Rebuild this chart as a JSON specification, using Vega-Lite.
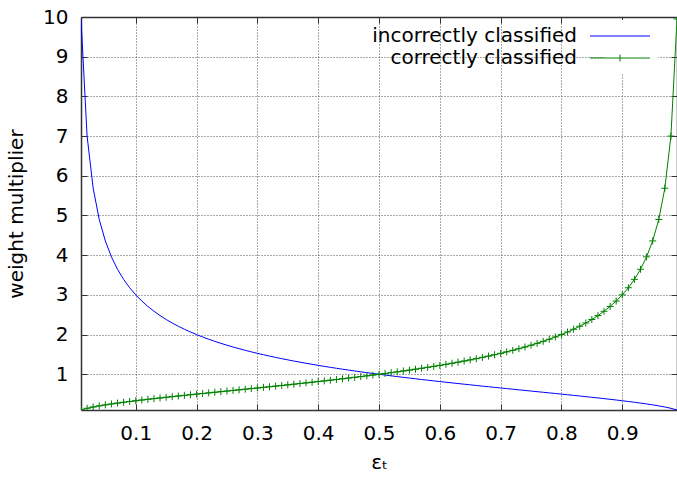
{
  "$schema": "https://vega.github.io/schema/vega-lite/v6.json",
  "width": 596,
  "height": 393,
  "autosize": {"type": "none"},
  "padding": {"left": 81, "top": 17, "right": 0, "bottom": 68},
  "config": {
    "view": {"stroke": null},
    "font": "DejaVu Sans",
    "axis": {
      "labelFont": "DejaVu Sans", "labelFontSize": 20, "labelColor": "#000",
      "titleFont": "DejaVu Sans", "titleFontSize": 20, "titleFontWeight": "normal", "titleColor": "#000",
      "domainColor": "#333", "domainWidth": 1.5,
      "tickColor": "#333", "tickSize": -6, "tickWidth": 1,
      "gridColor": "#555", "gridDash": [1, 2], "gridWidth": 1, "gridOpacity": 1
    }
  },
  "data": {"values": [
    {"eps":0.01,"inc":9.9499,"cor":0.1005},{"eps":0.02,"inc":7.0,"cor":0.1429},{"eps":0.03,"inc":5.6862,"cor":0.1759},
    {"eps":0.04,"inc":4.899,"cor":0.2041},{"eps":0.05,"inc":4.3589,"cor":0.2294},{"eps":0.06,"inc":3.9581,"cor":0.2527},
    {"eps":0.07,"inc":3.645,"cor":0.2744},{"eps":0.08,"inc":3.3912,"cor":0.2949},{"eps":0.09,"inc":3.1798,"cor":0.3145},
    {"eps":0.10,"inc":3.0,"cor":0.3333},{"eps":0.11,"inc":2.8445,"cor":0.3516},{"eps":0.12,"inc":2.708,"cor":0.3693},
    {"eps":0.13,"inc":2.5869,"cor":0.3866},{"eps":0.14,"inc":2.4785,"cor":0.4035},{"eps":0.15,"inc":2.3805,"cor":0.4201},
    {"eps":0.16,"inc":2.2913,"cor":0.4364},{"eps":0.17,"inc":2.2096,"cor":0.4526},{"eps":0.18,"inc":2.1344,"cor":0.4685},
    {"eps":0.19,"inc":2.0647,"cor":0.4843},{"eps":0.20,"inc":2.0,"cor":0.5},{"eps":0.21,"inc":1.9396,"cor":0.5156},
    {"eps":0.22,"inc":1.8829,"cor":0.5311},{"eps":0.23,"inc":1.8297,"cor":0.5465},{"eps":0.24,"inc":1.7795,"cor":0.562},
    {"eps":0.25,"inc":1.7321,"cor":0.5774},{"eps":0.26,"inc":1.6871,"cor":0.5928},{"eps":0.27,"inc":1.6443,"cor":0.6082},
    {"eps":0.28,"inc":1.6036,"cor":0.6236},{"eps":0.29,"inc":1.5647,"cor":0.6391},{"eps":0.30,"inc":1.5275,"cor":0.6547},
    {"eps":0.31,"inc":1.4919,"cor":0.6703},{"eps":0.32,"inc":1.4577,"cor":0.686},{"eps":0.33,"inc":1.4249,"cor":0.7018},
    {"eps":0.34,"inc":1.3933,"cor":0.7177},{"eps":0.35,"inc":1.3628,"cor":0.7338},{"eps":0.36,"inc":1.3333,"cor":0.75},
    {"eps":0.37,"inc":1.3049,"cor":0.7664},{"eps":0.38,"inc":1.2773,"cor":0.7829},{"eps":0.39,"inc":1.2506,"cor":0.7996},
    {"eps":0.40,"inc":1.2247,"cor":0.8165},{"eps":0.41,"inc":1.1996,"cor":0.8336},{"eps":0.42,"inc":1.1751,"cor":0.851},
    {"eps":0.43,"inc":1.1513,"cor":0.8686},{"eps":0.44,"inc":1.1281,"cor":0.8864},{"eps":0.45,"inc":1.1055,"cor":0.9045},
    {"eps":0.46,"inc":1.0835,"cor":0.923},{"eps":0.47,"inc":1.0619,"cor":0.9417},{"eps":0.48,"inc":1.0408,"cor":0.9608},
    {"eps":0.49,"inc":1.0202,"cor":0.9802},{"eps":0.50,"inc":1.0,"cor":1.0},{"eps":0.51,"inc":0.9802,"cor":1.0202},
    {"eps":0.52,"inc":0.9608,"cor":1.0408},{"eps":0.53,"inc":0.9417,"cor":1.0619},{"eps":0.54,"inc":0.923,"cor":1.0835},
    {"eps":0.55,"inc":0.9045,"cor":1.1055},{"eps":0.56,"inc":0.8864,"cor":1.1281},{"eps":0.57,"inc":0.8686,"cor":1.1513},
    {"eps":0.58,"inc":0.851,"cor":1.1751},{"eps":0.59,"inc":0.8336,"cor":1.1996},{"eps":0.60,"inc":0.8165,"cor":1.2247},
    {"eps":0.61,"inc":0.7996,"cor":1.2506},{"eps":0.62,"inc":0.7829,"cor":1.2773},{"eps":0.63,"inc":0.7664,"cor":1.3049},
    {"eps":0.64,"inc":0.75,"cor":1.3333},{"eps":0.65,"inc":0.7338,"cor":1.3628},{"eps":0.66,"inc":0.7177,"cor":1.3933},
    {"eps":0.67,"inc":0.7018,"cor":1.4249},{"eps":0.68,"inc":0.686,"cor":1.4577},{"eps":0.69,"inc":0.6703,"cor":1.4919},
    {"eps":0.70,"inc":0.6547,"cor":1.5275},{"eps":0.71,"inc":0.6391,"cor":1.5647},{"eps":0.72,"inc":0.6236,"cor":1.6036},
    {"eps":0.73,"inc":0.6082,"cor":1.6443},{"eps":0.74,"inc":0.5928,"cor":1.6871},{"eps":0.75,"inc":0.5774,"cor":1.7321},
    {"eps":0.76,"inc":0.562,"cor":1.7795},{"eps":0.77,"inc":0.5465,"cor":1.8297},{"eps":0.78,"inc":0.5311,"cor":1.8829},
    {"eps":0.79,"inc":0.5156,"cor":1.9396},{"eps":0.80,"inc":0.5,"cor":2.0},{"eps":0.81,"inc":0.4843,"cor":2.0647},
    {"eps":0.82,"inc":0.4685,"cor":2.1344},{"eps":0.83,"inc":0.4526,"cor":2.2096},{"eps":0.84,"inc":0.4364,"cor":2.2913},
    {"eps":0.85,"inc":0.4201,"cor":2.3805},{"eps":0.86,"inc":0.4035,"cor":2.4785},{"eps":0.87,"inc":0.3866,"cor":2.5869},
    {"eps":0.88,"inc":0.3693,"cor":2.708},{"eps":0.89,"inc":0.3516,"cor":2.8445},{"eps":0.90,"inc":0.3333,"cor":3.0},
    {"eps":0.91,"inc":0.3145,"cor":3.1798},{"eps":0.92,"inc":0.2949,"cor":3.3912},{"eps":0.93,"inc":0.2744,"cor":3.645},
    {"eps":0.94,"inc":0.2527,"cor":3.9581},{"eps":0.95,"inc":0.2294,"cor":4.3589},{"eps":0.96,"inc":0.2041,"cor":4.899},
    {"eps":0.97,"inc":0.1759,"cor":5.6862},{"eps":0.98,"inc":0.1429,"cor":7.0},{"eps":0.99,"inc":0.1005,"cor":9.9499}
  ]},
  "layer": [
    {
      "mark": {"type": "line", "strokeWidth": 1, "clip": true},
      "encoding": {
        "x": {"field": "eps", "type": "quantitative",
          "scale": {"domain": [0.01, 0.99], "nice": false, "zero": false},
          "axis": {"orient": "bottom", "values": [0.1,0.2,0.3,0.4,0.5,0.6,0.7,0.8,0.9], "format": ".1f",
            "grid": true, "labelPadding": 19, "title": "εₜ", "titlePadding": 9}},
        "y": {"field": "inc", "type": "quantitative",
          "scale": {"domain": [0.1, 10], "nice": false, "zero": false},
          "axis": {"orient": "left", "values": [1,2,3,4,5,6,7,8,9,10], "format": "d",
            "grid": true, "labelPadding": 19, "title": "weight multiplier", "titlePadding": 16}},
        "color": {"datum": "incorrectly classified", "type": "nominal",
          "scale": {"domain": ["incorrectly classified", "correctly classified"], "range": ["#0000ff", "#008000"]},
          "legend": {"orient": "none", "legendX": 523, "legendY": 3, "title": null,
            "symbolType": "M-6,0H6", "symbolSize": 100, "symbolStrokeWidth": 1,
            "labelAlign": "right", "labelOffset": -53, "labelFont": "DejaVu Sans", "labelFontSize": 20,
            "labelColor": "#000", "labelLimit": 400, "rowPadding": 2, "fillColor": "white", "padding": 6,
            "encode": {"symbols": {"update": {"shape": {"signal": "datum.value === 'correctly classified' ? 'M-6,0H6M0,-0.7V0.7' : 'M-6,0H6'"}}}}}}
      }
    },
    {
      "mark": {"type": "line", "strokeWidth": 1, "clip": true},
      "encoding": {
        "x": {"field": "eps", "type": "quantitative",
          "axis": {"orient": "top", "values": [0.1,0.2,0.3,0.4,0.5,0.6,0.7,0.8,0.9], "labels": false, "grid": false, "title": null}},
        "y": {"field": "cor", "type": "quantitative",
          "axis": {"orient": "right", "values": [1,2,3,4,5,6,7,8,9,10], "labels": false, "grid": false, "title": null}},
        "color": {"datum": "correctly classified", "type": "nominal"}
      }
    },
    {
      "mark": {"type": "point", "shape": "M-1,0H1M0,-1V1", "size": 49, "filled": false, "color": "#008000", "strokeWidth": 1, "opacity": 1, "clip": true},
      "encoding": {
        "x": {"field": "eps", "type": "quantitative", "axis": null},
        "y": {"field": "cor", "type": "quantitative", "axis": null}
      }
    }
  ],
  "resolve": {"axis": {"x": "independent", "y": "independent"}}
}
